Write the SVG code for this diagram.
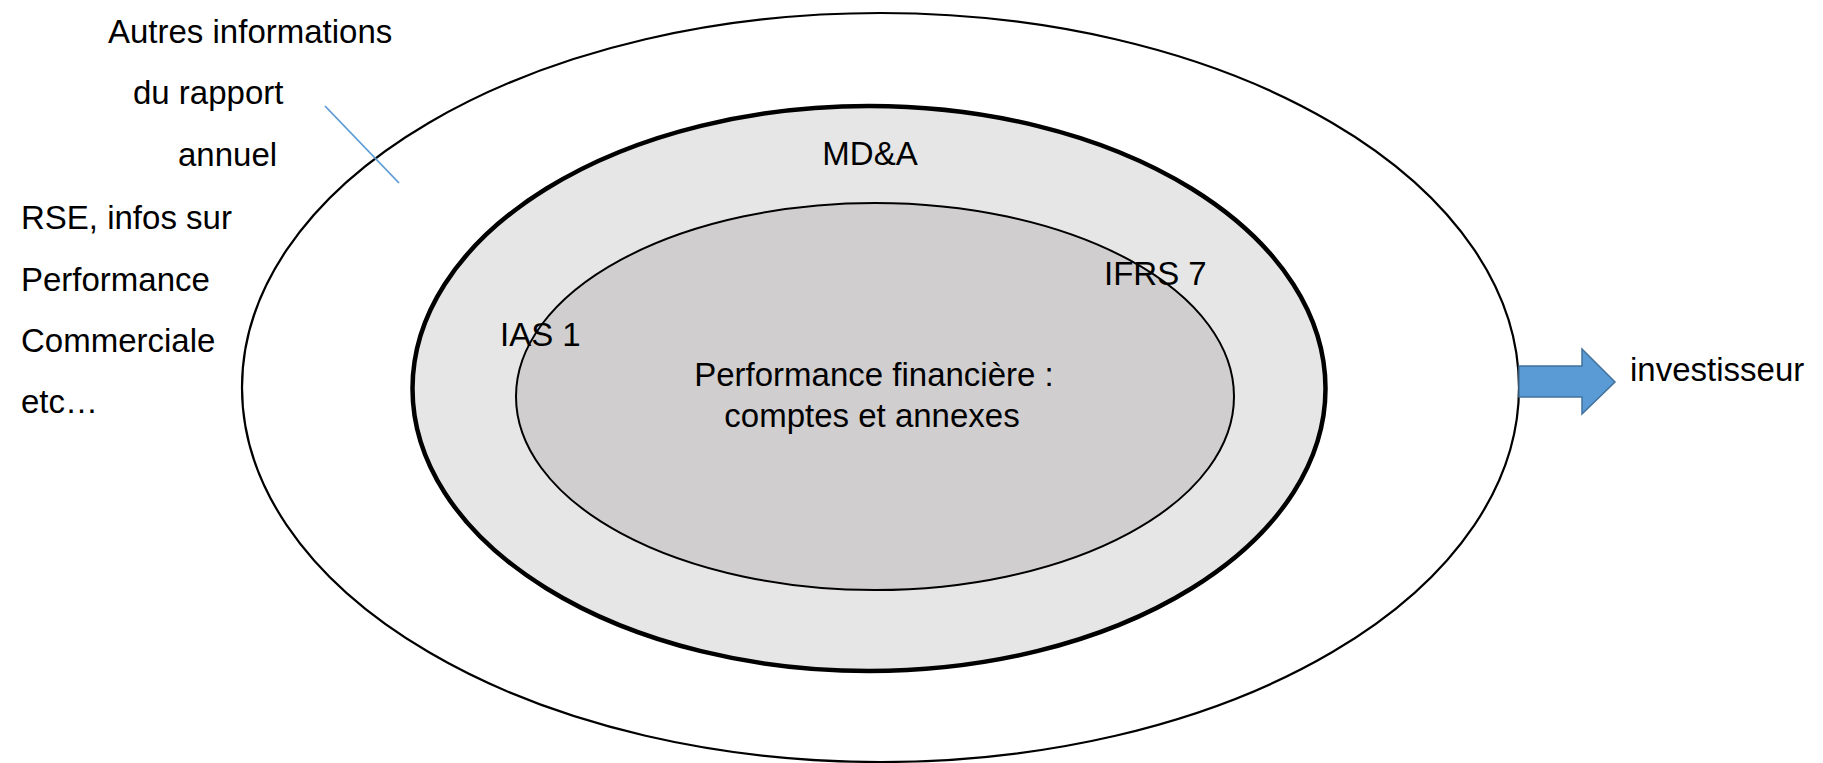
<svg xmlns="http://www.w3.org/2000/svg" width="1823" height="763" viewBox="0 0 1823 763">
<style>
text{font-family:"Liberation Sans",Arial,sans-serif;font-size:33px;fill:#000}
.c{text-anchor:middle}
</style>
<rect width="1823" height="763" fill="#fff"/>
<g id="outer">
<ellipse cx="880.5" cy="387.5" rx="638.5" ry="374.5" fill="#fff" stroke="#000" stroke-width="2.2"/>
</g>
<g id="middle">
<ellipse cx="869" cy="388.5" rx="456.5" ry="282.5" fill="#e6e6e6" stroke="#000" stroke-width="4.5"/>
<text class="c" x="870" y="165">MD&amp;A</text>
</g>
<g id="inner">
<ellipse cx="875" cy="396.5" rx="359" ry="193.5" fill="#d0cecf" stroke="#000" stroke-width="2"/>
<text class="c" x="874" y="386">Performance financière :</text>
<text class="c" x="872" y="427">comptes et annexes</text>
</g>
<g id="labels">
<text x="1104" y="285">IFRS 7</text>
<text x="500" y="346">IAS 1</text>
<text x="108" y="43">Autres informations</text>
<text x="133" y="104">du rapport</text>
<text x="178" y="166">annuel</text>
<text x="21" y="229">RSE, infos sur</text>
<text x="21" y="291">Performance</text>
<text x="21" y="352">Commerciale</text>
<text x="21" y="413">etc…</text>
<text x="1630" y="381">investisseur</text>
</g>
<g id="connectors">
<line x1="325" y1="106" x2="399" y2="183" stroke="#5b9bd5" stroke-width="1.8"/>
<polygon points="1519,366 1582,366 1582,349 1615,382 1582,414 1582,397 1519,397" fill="#5b9bd5" stroke="#41719c" stroke-width="1.5"/>
</g>
</svg>
